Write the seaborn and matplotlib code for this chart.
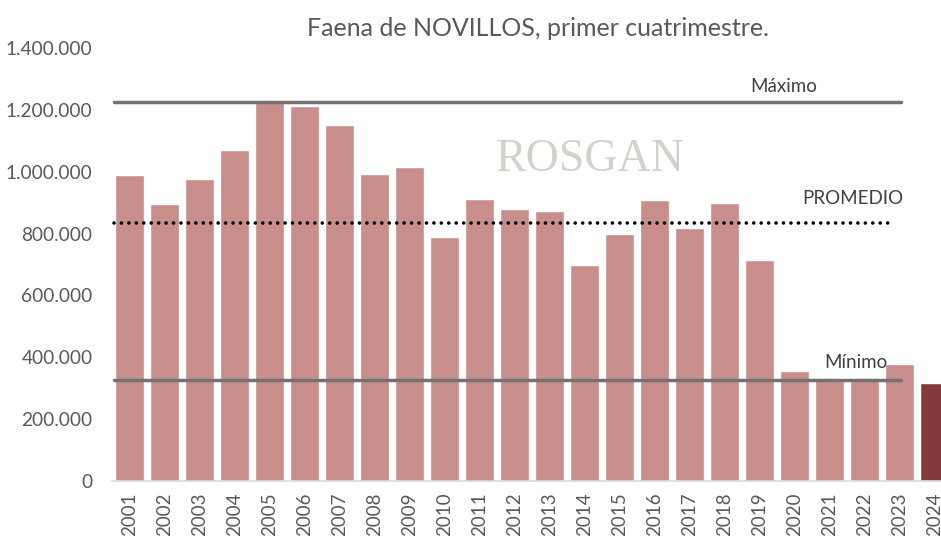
import matplotlib
matplotlib.use('Agg')
import numpy as np
import pandas as pd
import matplotlib.pyplot as plt
import seaborn as sns

# faena de novillos, primer cuatrimestre (cabezas)
years = [str(y) for y in range(2001, 2025)]
values = [990000, 897000, 977000, 1071000, 1226000, 1213000, 1152000, 994000,
          1016000, 790000, 913000, 881000, 874000, 697000, 797000, 910000,
          819000, 900000, 716000, 355000, 325000, 325000, 377000, 316000]

historic = values[:-1]
maximo = max(historic)
minimo = min(historic)
promedio = np.mean(historic)

bar_light = '#c78e8c'
bar_dark = '#843a3a'
text_gray = '#595959'
line_gray = '#767171'

sns.set_theme(style='white')
plt.rcParams['font.family'] = ['Lato', 'DejaVu Sans']

df = pd.DataFrame({'year': years, 'faena': values})
colors = [bar_light] * (len(years) - 1) + [bar_dark]

fig = plt.figure(figsize=(9.41, 5.36), dpi=100)
ax = fig.add_axes([112 / 941, 55 / 536, 840 / 941, 433 / 536])

sns.barplot(data=df, x='year', y='faena', hue='year', palette=colors,
            legend=False, width=0.83, saturation=1, ax=ax)

n = len(years)
x0, x1 = 0 - 0.45, n - 2 + 0.03
ax.plot([x0, x1], [maximo, maximo], color=line_gray, lw=2.5, solid_capstyle='round')
ax.plot([x0, x1], [minimo, minimo], color=line_gray, lw=2.5, solid_capstyle='round')
ax.plot([x0, x1 - 0.25], [promedio, promedio], color='black', lw=2.6,
        linestyle=(0, (0.01, 2.05)), dash_capstyle='round')

ax.text(18.7, 1277000, 'Máximo', ha='center', va='center', fontsize=13.5, color='#404040')
ax.text(20.66, 913000, 'PROMEDIO', ha='center', va='center', fontsize=13.5, color='#404040')
ax.text(20.75, 384000, 'Mínimo', ha='center', va='center', fontsize=13.5, color='#404040')

# marca de agua
ax.text(13.15, 1040000, 'ROSGAN', ha='center', va='center', fontsize=33,
        family='Liberation Serif', color='#cdcdc6', alpha=0.9, zorder=0.5)

ax.set_xlim(-0.5, n - 0.5)
ax.set_ylim(0, 1400000)
ax.set_yticks(np.arange(0, 1400001, 200000))
ax.set_yticklabels([f'{int(v):,}'.replace(',', '.') for v in ax.get_yticks()])
ax.tick_params(axis='y', labelsize=13.7, labelcolor=text_gray, length=0, pad=14)
ax.tick_params(axis='x', labelsize=13.5, labelcolor=text_gray, length=0, pad=8, rotation=90)
ax.set_xlabel('')
ax.set_ylabel('')

for side in ['top', 'right', 'left']:
    ax.spines[side].set_visible(False)
ax.spines['bottom'].set_color('#d9d9d9')
ax.spines['bottom'].set_linewidth(1.2)

fig.text(538 / 941, 1 - 28 / 536, 'Faena de NOVILLOS, primer cuatrimestre.',
         ha='center', va='center', fontsize=18, color=text_gray)

fig.savefig('out.png', dpi=100)
